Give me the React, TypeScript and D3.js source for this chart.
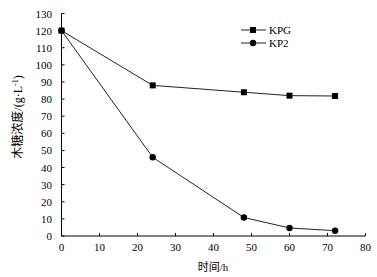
import React from "react";
import * as d3 from "d3";

const times = [0, 24, 48, 60, 72];
const kpg = [120, 88, 84, 82, 81.8];
const kp2 = [120, 46, 10.8, 4.7, 3.1];
const xTicks = [0, 10, 20, 30, 40, 50, 60, 70, 80];
const yTicks = [0, 10, 20, 30, 40, 50, 60, 70, 80, 90, 100, 110, 120, 130];
const seriesNames = ["KPG", "KP2"];

const W = 377;
const H = 277;
const x = d3.scaleLinear().domain([0, 80]).range([61.5, 365.5]);
const y = d3.scaleLinear().domain([0, 130]).range([236, 13.5]);
const font = "'Liberation Serif', 'Times New Roman', 'Noto Sans CJK SC', serif";

export default function App() {
  const line = d3
    .line<number>()
    .x((_, i) => x(times[i]))
    .y((d) => y(d));
  return (
    <svg
      width={W}
      height={H}
      style={{ position: "absolute", left: 0, top: 0, background: "#fff" }}
      fontFamily={font}
    >
      {/* axes */}
      <line x1={x(0)} x2={x(80)} y1={y(0)} y2={y(0)} stroke="#000" strokeWidth={1} />
      <line x1={x(0)} x2={x(0)} y1={y(0)} y2={y(130)} stroke="#000" strokeWidth={1} />
      {xTicks.map((t) => (
        <g key={"x" + t}>
          <line x1={x(t)} x2={x(t)} y1={y(0)} y2={y(0) - 3} stroke="#000" />
          <text x={x(t)} y={251} fontSize={11} textAnchor="middle" fill="#000">
            {t}
          </text>
        </g>
      ))}
      {yTicks.map((t) => (
        <g key={"y" + t}>
          <line x1={x(0)} x2={x(0) + 3} y1={y(t)} y2={y(t)} stroke="#000" />
          <text x={52} y={y(t) + 4} fontSize={11} textAnchor="end" fill="#000">
            {t}
          </text>
        </g>
      ))}
      {/* axis titles */}
      <text x={213} y={271} fontSize={11} textAnchor="middle" fill="#000">
        时间/h
      </text>
      <text
        transform={`translate(22,117) rotate(-90)`}
        fontSize={12}
        textAnchor="middle"
        fill="#000"
      >
        木糖浓度/(g·L
        <tspan dy={-4} fontSize={8}>
          -1
        </tspan>
        <tspan dy={4}>)</tspan>
      </text>
      {/* series */}
      <path d={line(kpg) || ""} fill="none" stroke="#222" strokeWidth={1} />
      <path d={line(kp2) || ""} fill="none" stroke="#222" strokeWidth={1} />
      {kpg.map((v, i) => (
        <rect key={"s" + i} x={x(times[i]) - 3} y={y(v) - 3} width={6} height={6} fill="#000" />
      ))}
      {kp2.map((v, i) => (
        <circle key={"c" + i} cx={x(times[i])} cy={y(v)} r={3.2} fill="#000" />
      ))}
      {/* legend */}
      <g>
        <line x1={241} x2={266} y1={30} y2={30} stroke="#222" />
        <rect x={250} y={27} width={6} height={6} fill="#000" />
        <text x={269} y={34} fontSize={11} fill="#000">
          {seriesNames[0]}
        </text>
        <line x1={241} x2={266} y1={43} y2={43} stroke="#222" />
        <circle cx={253} cy={43} r={3.2} fill="#000" />
        <text x={269} y={47} fontSize={11} fill="#000">
          {seriesNames[1]}
        </text>
      </g>
    </svg>
  );
}
